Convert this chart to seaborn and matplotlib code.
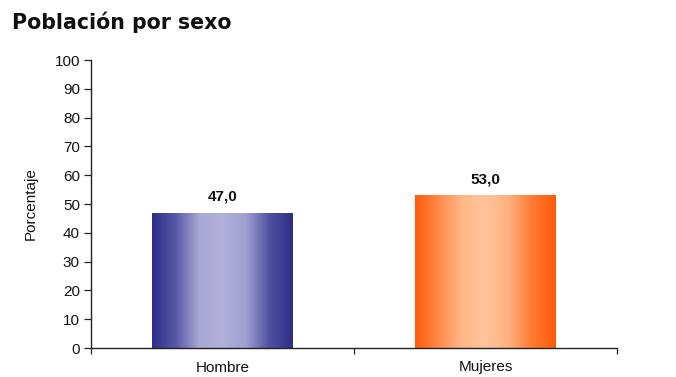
import numpy as np
import pandas as pd
import matplotlib
matplotlib.use("Agg")
import matplotlib.pyplot as plt
import seaborn as sns
from matplotlib.colors import LinearSegmentedColormap

categories = ["Hombre", "Mujeres"]
values = [47.0, 53.0]
value_labels = ["47,0", "53,0"]
yticks = list(range(0, 101, 10))
title = "Población por sexo"
ylabel = "Porcentaje"

sns.set_theme(style="white")
plt.rcParams['font.family'] = ['Liberation Sans', 'DejaVu Sans']

df = pd.DataFrame({"cat": categories, "val": values})

fig = plt.figure(figsize=(6.76, 3.77), dpi=100)
ax = fig.add_axes([91/676, 29/377, (617-91)/676, (348-60)/377])

sns.barplot(data=df, x="cat", y="val", ax=ax, width=0.536,
            color="#ffffff", edgecolor="none", linewidth=0)

grads = [
    ["#2e2e8a", "#5858a8", "#a8a8d4", "#b0b0da", "#a0a0d0", "#5050a2", "#2e2e8a"],
    ["#ff5a0a", "#ff8a4a", "#ffb788", "#ffc49c", "#ffb080", "#ff7a30", "#ff5a0a"],
]
for patch, cols in zip(ax.patches, grads):
    x0, y0 = patch.get_x(), patch.get_y()
    w, h = patch.get_width(), patch.get_height()
    cmap = LinearSegmentedColormap.from_list("g", cols)
    grad = np.linspace(0, 1, 256).reshape(1, -1)
    im = ax.imshow(grad, cmap=cmap, aspect="auto",
                   extent=[x0, x0 + w, y0, y0 + h], zorder=2)
    im.set_clip_path(patch)

for i, (v, lab) in enumerate(zip(values, value_labels)):
    ax.text(i, v + 3.2, lab, ha="center", va="bottom", fontsize=11,
            fontweight="bold", color="#111111")

ax.set_xlim(-0.5, 1.5)
ax.set_ylim(0, 100)
ax.set_yticks(yticks)
ax.set_yticklabels([str(t) for t in yticks], fontsize=11, color="#111111")
ax.set_xticks([0, 1])
ax.set_xticklabels(categories, fontsize=11, color="#111111")
ax.set_xticks([-0.5, 0.5, 1.5], minor=True)
ax.tick_params(axis="x", which="major", length=0, pad=9)
ax.tick_params(axis="x", which="minor", length=4, width=0.9, color="#222222", direction="out", bottom=True)
ax.tick_params(axis="y", length=5, width=0.9, color="#222222", direction="out", left=True, pad=3)
ax.set_xlabel("")
ax.set_ylabel(ylabel, fontsize=11, color="#111111", labelpad=12)

for s in ["top", "right"]:
    ax.spines[s].set_visible(False)
for s in ["left", "bottom"]:
    ax.spines[s].set_color("#222222")
    ax.spines[s].set_linewidth(1.0)

fig.text(12/676, 1 - 22/377, title, fontsize=14.8, fontweight="bold",
         family="DejaVu Sans", color="#111111", va="center", ha="left")

fig.savefig("out.png", dpi=100)
